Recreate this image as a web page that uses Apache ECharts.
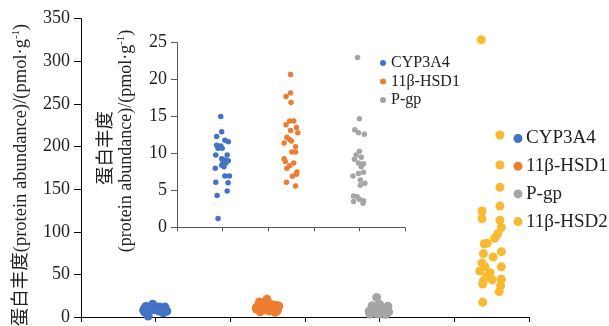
<!DOCTYPE html>
<html>
<head>
<meta charset="utf-8">
<script src="https://cdn.jsdelivr.net/npm/echarts@6/dist/echarts.min.js"></script>
<style>html,body{margin:0;padding:0;background:#fff}#c{width:609px;height:326px}</style>
</head>
<body>
<div id="c"></div>
<script>
// ---- data ----
const seriesNames = ['CYP3A4', '11β-HSD1', 'P-gp', '11β-HSD2'];
const mainYTicks = [0, 50, 100, 150, 200, 250, 300, 350];
const insetYTicks = [0, 5, 10, 15, 20, 25];

const cyp3a4Pos = [0.96,0.98,0.87,1.05,1.125,0.87,0.96,0.90,0.99,0.85,1.10,0.98,1.05,1.125,1.01,1.07,0.98,1.03,0.84,1.05,1.15,0.85,1.12,1.10,0.88,0.90];
const cyp3a4Val = [15.0,12.95,12.3,11.8,11.6,11.1,11.0,10.7,10.7,9.8,9.8,9.3,9.1,9.0,8.75,8.7,8.4,8.2,8.0,6.95,6.95,6.1,6.05,4.9,4.3,1.2];

const hsd1Pos = [2.49,2.49,2.39,2.5,2.39,2.47,2.56,2.62,2.49,2.65,2.41,2.47,2.51,2.35,2.60,2.52,2.60,2.35,2.375,2.56,2.47,2.41,2.63,2.62,2.53,2.40,2.60];
const hsd1Val = [20.7,18.2,17.7,16.9,13.9,14.4,14.4,13.5,13.1,12.8,12.2,11.9,11.7,11.4,10.9,10.2,10.2,9.3,8.9,8.7,8.35,8.0,7.5,7.2,6.9,6.1,5.6];

const pgpPos = [3.96,4.0,3.90,3.98,4.11,4.0,3.93,4.04,3.89,3.98,4.09,4.04,3.86,3.98,4.09,4.02,4.12,4.02,3.87,3.95,4.0,4.08,3.87,4.09];
const pgpVal = [23.0,14.7,13.2,12.8,12.6,10.3,9.8,9.5,9.2,8.7,8.6,8.2,6.95,7.3,7.45,6.4,5.95,5.7,4.25,4.15,3.8,3.25,3.5,3.6];

const hsd2Pos = [5.36,5.61,5.61,5.61,5.61,5.37,5.37,5.61,5.63,5.58,5.54,5.44,5.40,5.63,5.39,5.52,5.37,5.63,5.41,5.34,5.48,5.43,5.39,5.51,5.63,5.62,5.60,5.38,5.38];
const hsd2Val = [325.3,213.6,178.3,152.1,130.1,124.4,115.5,113.6,105.1,97.4,92.4,86.6,85.9,76.7,74.4,70.4,63.5,58.9,58.9,53.9,52,47.3,42.4,43.5,44.3,36.6,29.7,38.6,17.3];

const colors = ['#4472C4', '#ED7D31', '#A5A5A5', '#F9B931'];
// ---------------------------------------

const FONT = '"Liberation Serif", "Noto Sans CJK SC", serif';
const pair = (xs, ys) => xs.map((x, i) => [x, ys[i]]);

const chart = echarts.init(document.getElementById('c'), null, {renderer: 'canvas'});

const mainSets = [pair(cyp3a4Pos, cyp3a4Val), pair(hsd1Pos, hsd1Val), pair(pgpPos, pgpVal), pair(hsd2Pos, hsd2Val)];
const insetSets = mainSets.slice(0, 3);

const series = [];
mainSets.forEach((d, i) => series.push({
  name: seriesNames[i], type: 'scatter', xAxisIndex: 0, yAxisIndex: 0,
  data: d, symbolSize: 9, itemStyle: {color: colors[i], opacity: 1}, z: 2
}));
insetSets.forEach((d, i) => series.push({
  name: seriesNames[i], type: 'scatter', xAxisIndex: 1, yAxisIndex: 1,
  data: d, symbolSize: 5.5, itemStyle: {color: colors[i], opacity: 1}, z: 3
}));

const supRich = {s: {fontSize: 11, verticalAlign: 'top', padding: [0, 0, 9, 0], fontFamily: FONT, fill: '#222'}};

const option = {
  animation: false,
  color: colors,
  textStyle: {fontFamily: FONT},
  grid: [
    {left: 81, top: 18.7, right: 80, bottom: 4.3},
    {left: 177, top: 42.7, right: 204, bottom: 98.7}
  ],
  xAxis: [
    {type: 'value', gridIndex: 0, min: 0, max: 6, interval: 1,
     axisLine: {lineStyle: {color: '#000', width: 1}},
     axisTick: {show: true, inside: false, length: 5, lineStyle: {color: '#000'}},
     axisLabel: {show: false}, splitLine: {show: false}},
    {type: 'value', gridIndex: 1, min: 0, max: 5, interval: 1,
     axisLine: {lineStyle: {color: '#595959', width: 1}},
     axisTick: {show: true, inside: false, length: 4, lineStyle: {color: '#595959'}},
     axisLabel: {show: false}, splitLine: {show: false}}
  ],
  yAxis: [
    {type: 'value', gridIndex: 0, min: mainYTicks[0], max: mainYTicks[mainYTicks.length - 1], interval: 50,
     axisLine: {show: true, lineStyle: {color: '#000', width: 1}},
     axisTick: {show: true, length: 7, lineStyle: {color: '#000'}},
     axisLabel: {fontFamily: FONT, fontSize: 18, color: '#222', margin: 11},
     splitLine: {show: false}},
    {type: 'value', gridIndex: 1, min: insetYTicks[0], max: insetYTicks[insetYTicks.length - 1], interval: 5,
     axisLine: {show: true, lineStyle: {color: '#595959', width: 1}},
     axisTick: {show: true, length: 6, lineStyle: {color: '#595959'}},
     axisLabel: {fontFamily: FONT, fontSize: 18, color: '#222', margin: 10},
     splitLine: {show: false}}
  ],
  legend: [
    {data: seriesNames.slice(0, 3), orient: 'vertical', left: 375, top: 50,
     icon: 'circle', itemWidth: 6, itemHeight: 6, itemGap: 2.5,
     textStyle: {fontFamily: FONT, fontSize: 16, color: '#222', lineHeight: 16, padding: [0, 0, 0, 0]},
     selectedMode: false},
    {data: seriesNames, orient: 'vertical', left: 508.5, top: 124,
     icon: 'circle', itemWidth: 9, itemHeight: 9, itemGap: 8.7,
     textStyle: {fontFamily: FONT, fontSize: 19, color: '#222', lineHeight: 19, padding: [0, 0, 0, -1.5]},
     selectedMode: false}
  ],
  graphic: [
    {type: 'text', x: 21, y: 175, rotation: Math.PI / 2,
     style: {text: '蛋白丰度(protein abundance)/(pmol·g{s|-1})', fontFamily: FONT, fontSize: 18.5, fill: '#222',
             align: 'center', verticalAlign: 'middle', rich: supRich}},
    {type: 'text', x: 106, y: 148, rotation: Math.PI / 2,
     style: {text: '蛋白丰度', fontFamily: FONT, fontSize: 18.5, fill: '#222', align: 'center', verticalAlign: 'middle'}},
    {type: 'text', x: 126, y: 141, rotation: Math.PI / 2,
     style: {text: '(protein abundance)/(pmol·g{s|-1})', fontFamily: FONT, fontSize: 18, fill: '#222',
             align: 'center', verticalAlign: 'middle', rich: supRich}}
  ],
  series: series
};
chart.setOption(option);
</script>
</body>
</html>
